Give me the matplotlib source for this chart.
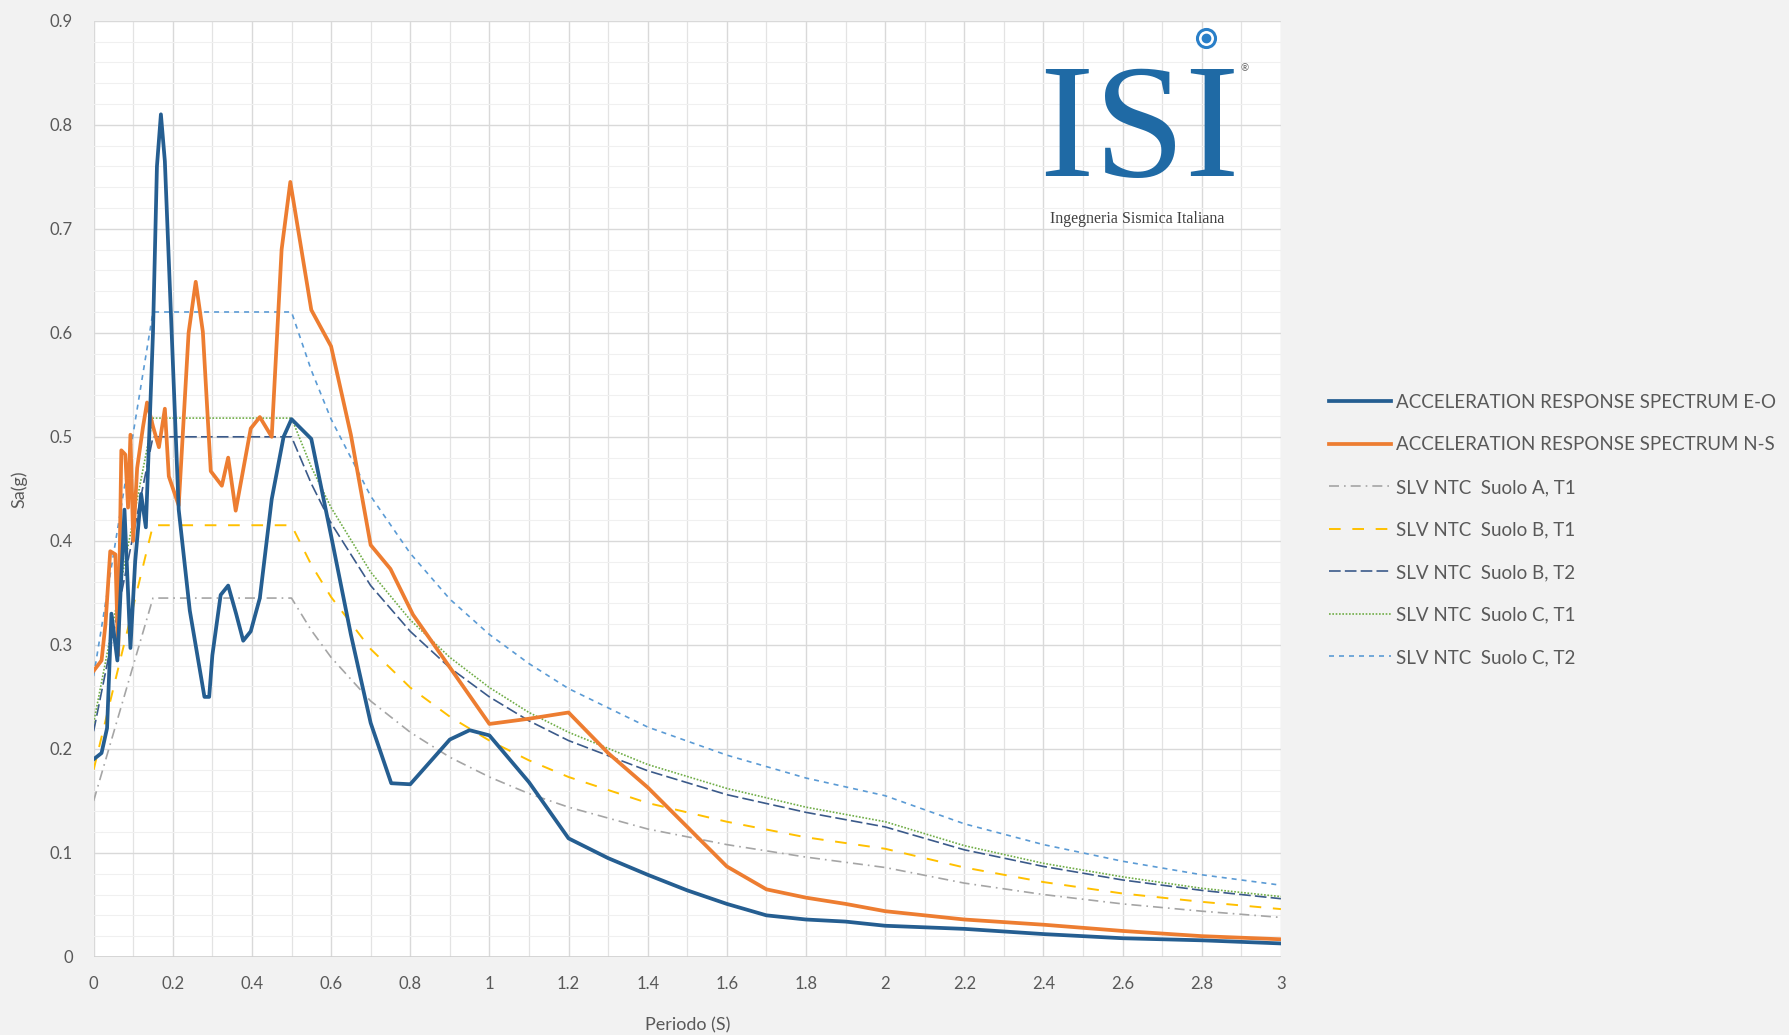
import matplotlib.pyplot as plt
from matplotlib.ticker import MultipleLocator

# acceleration response spectra
T_eo = [0, 0.02, 0.034, 0.045, 0.06, 0.078, 0.093, 0.105, 0.12, 0.132, 0.15, 0.16,
        0.17, 0.18, 0.215, 0.243, 0.28, 0.292, 0.3, 0.321, 0.34, 0.36, 0.378, 0.397,
        0.42, 0.45, 0.48, 0.5, 0.55, 0.6, 0.65, 0.7, 0.752, 0.8, 0.9, 0.95, 1.0, 1.1,
        1.2, 1.3, 1.4, 1.5, 1.6, 1.7, 1.8, 1.9, 2.0, 2.2, 2.4, 2.6, 2.8, 3.0]
sa_eo = [0.19, 0.196, 0.22, 0.33, 0.285, 0.43, 0.297, 0.38, 0.445, 0.413, 0.6, 0.76,
         0.81, 0.765, 0.43, 0.333, 0.25, 0.25, 0.29, 0.348, 0.357, 0.33, 0.304, 0.313,
         0.345, 0.44, 0.5, 0.517, 0.498, 0.405, 0.31, 0.225, 0.167, 0.166, 0.209, 0.218,
         0.213, 0.168, 0.114, 0.095, 0.079, 0.064, 0.051, 0.04, 0.036, 0.034, 0.03,
         0.027, 0.022, 0.018, 0.016, 0.013]

T_ns = [0, 0.02, 0.03, 0.042, 0.055, 0.062, 0.07, 0.08, 0.087, 0.093, 0.1, 0.11, 0.125,
        0.135, 0.15, 0.165, 0.18, 0.19, 0.215, 0.24, 0.258, 0.276, 0.296, 0.324, 0.34,
        0.359, 0.397, 0.42, 0.45, 0.475, 0.497, 0.55, 0.6, 0.65, 0.7, 0.75, 0.807, 1.0,
        1.1, 1.2, 1.3, 1.4, 1.5, 1.6, 1.7, 1.8, 1.9, 2.0, 2.2, 2.4, 2.6, 2.8, 3.0]
sa_ns = [0.275, 0.285, 0.32, 0.39, 0.387, 0.29, 0.487, 0.483, 0.432, 0.502, 0.4, 0.47,
         0.51, 0.533, 0.51, 0.49, 0.527, 0.462, 0.434, 0.6, 0.649, 0.601, 0.467, 0.453,
         0.48, 0.429, 0.508, 0.519, 0.5, 0.68, 0.745, 0.622, 0.587, 0.502, 0.396, 0.373,
         0.329, 0.224, 0.229, 0.235, 0.196, 0.163, 0.125, 0.087, 0.065, 0.057, 0.051,
         0.044, 0.036, 0.031, 0.025, 0.02, 0.017]

# NTC design spectra, values read at these periods
T_ntc = [0, 0.15, 0.5, 0.55, 0.6, 0.7, 0.8, 0.9, 1.0, 1.1, 1.2, 1.4, 1.6, 1.8, 2.0,
         2.2, 2.4, 2.6, 2.8, 3.0]
sa_A1 = [0.15, 0.345, 0.345, 0.314, 0.288, 0.246, 0.216, 0.192, 0.173, 0.157, 0.144,
         0.123, 0.108, 0.096, 0.086, 0.071, 0.060, 0.051, 0.044, 0.038]
sa_B1 = [0.18, 0.415, 0.415, 0.377, 0.346, 0.296, 0.259, 0.231, 0.208, 0.189, 0.173,
         0.148, 0.130, 0.115, 0.104, 0.086, 0.072, 0.061, 0.053, 0.046]
sa_B2 = [0.217, 0.5, 0.5, 0.455, 0.417, 0.357, 0.313, 0.278, 0.25, 0.227, 0.208,
         0.179, 0.156, 0.139, 0.125, 0.103, 0.087, 0.074, 0.064, 0.056]
sa_C1 = [0.225, 0.518, 0.518, 0.471, 0.432, 0.370, 0.324, 0.288, 0.259, 0.235, 0.216,
         0.185, 0.162, 0.144, 0.130, 0.107, 0.090, 0.077, 0.066, 0.058]
sa_C2 = [0.27, 0.62, 0.62, 0.564, 0.517, 0.443, 0.388, 0.344, 0.31, 0.282, 0.258,
         0.221, 0.194, 0.172, 0.155, 0.128, 0.108, 0.092, 0.079, 0.069]

x_ticks = [0, 0.2, 0.4, 0.6, 0.8, 1, 1.2, 1.4, 1.6, 1.8, 2, 2.2, 2.4, 2.6, 2.8, 3]
x_labels = ['0', '0.2', '0.4', '0.6', '0.8', '1', '1.2', '1.4', '1.6', '1.8', '2',
            '2.2', '2.4', '2.6', '2.8', '3']
y_ticks = [0, 0.1, 0.2, 0.3, 0.4, 0.5, 0.6, 0.7, 0.8, 0.9]
y_labels = ['0', '0.1', '0.2', '0.3', '0.4', '0.5', '0.6', '0.7', '0.8', '0.9']

plt.rcParams['font.family'] = ['Lato', 'DejaVu Sans']
plt.rcParams['mathtext.fontset'] = 'custom'
plt.rcParams['mathtext.rm'] = 'Liberation Serif'
txt = '#595959'

fig = plt.figure(figsize=(17.9, 10.35), dpi=100, facecolor='#f2f2f2')
ax = fig.add_axes([0.0523, 0.0754, 0.6633, 0.9046])
ax.set_facecolor('white')

ax.plot(T_eo, sa_eo, color='#255e91', lw=2.7, label='ACCELERATION RESPONSE SPECTRUM E-O', zorder=5)
ax.plot(T_ns, sa_ns, color='#ed7d31', lw=2.7, label='ACCELERATION RESPONSE SPECTRUM N-S', zorder=4)
ax.plot(T_ntc, sa_A1, color='#a5a5a5', lw=1.2, ls=(0, (6, 3, 1, 3)), label='SLV NTC  Suolo A, T1')
ax.plot(T_ntc, sa_B1, color='#ffc000', lw=1.4, ls=(0, (6, 6)), label='SLV NTC  Suolo B, T1')
ax.plot(T_ntc, sa_B2, color='#3b5a8a', lw=1.2, ls=(0, (7, 2.5)), label='SLV NTC  Suolo B, T2')
ax.plot(T_ntc, sa_C1, color='#70ad47', lw=1.2, ls=(0, (1, 1)), label='SLV NTC  Suolo C, T1')
ax.plot(T_ntc, sa_C2, color='#5b9bd5', lw=1.2, ls=(0, (3, 3)), label='SLV NTC  Suolo C, T2')

ax.set_xlim(0, 3)
ax.set_ylim(0, 0.9)
ax.set_xticks(x_ticks)
ax.set_xticklabels(x_labels)
ax.set_yticks(y_ticks)
ax.set_yticklabels(y_labels)
ax.xaxis.set_minor_locator(MultipleLocator(0.1))
ax.yaxis.set_minor_locator(MultipleLocator(0.02))
ax.grid(which='major', color='#d9d9d9', lw=1.0)
ax.grid(which='minor', axis='x', color='#e3e3e3', lw=0.9)
ax.grid(which='minor', axis='y', color='#f0f0f0', lw=0.8)
ax.set_axisbelow(True)
ax.tick_params(which='both', length=0)
ax.tick_params(axis='y', pad=15, labelsize=12, labelcolor=txt)
ax.tick_params(axis='x', pad=14, labelsize=12, labelcolor=txt)
for s in ax.spines.values():
    s.set_visible(False)
ax.axhline(0, color='#d0d0d0', lw=1.2)

ax.set_xlabel('Periodo (S)', fontsize=13, color=txt, labelpad=18)
ax.set_ylabel('Sa(g)', fontsize=13, color=txt, labelpad=16)

fig.legend(loc='center left', bbox_to_anchor=(0.733, 0.488), frameon=False,
           fontsize=13.5, handlelength=3.3, handletextpad=0.3, labelspacing=1.36,
           labelcolor=txt)

# ISI logo
blue = '#1f6aa5'
fig.text(0.6355, 0.830, r'$\mathrm{ISI}$', fontsize=118, color=blue,
         ha='center', va='baseline')
fig.text(0.6355, 0.7884, 'Ingegneria Sismica Italiana', fontsize=11.5,
         family='Liberation Serif', color='#404040', ha='center', va='center')
fig.text(0.6955, 0.934, '\u00ae', fontsize=7, color='#606060', ha='center', va='center')
fig.add_artist(plt.Line2D([0.6735], [0.9635], transform=fig.transFigure, marker='o',
                          ms=13, mfc='white', mec='#2a7fc8', mew=2.2, ls='none'))
fig.add_artist(plt.Line2D([0.6735], [0.9635], transform=fig.transFigure, marker='o',
                          ms=6, mfc='#2a7fc8', mec='#2a7fc8', ls='none'))

fig.savefig('out.png', dpi=100, facecolor=fig.get_facecolor())
